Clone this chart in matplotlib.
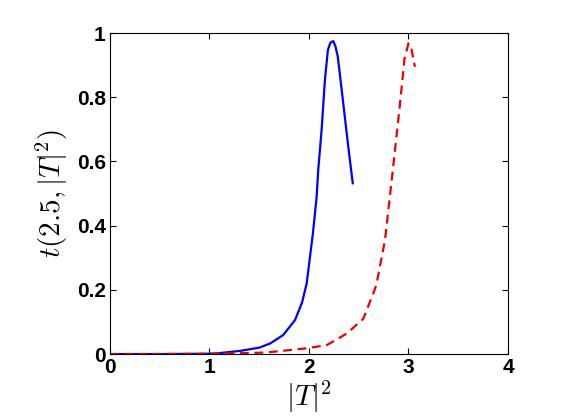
import numpy as np
import matplotlib
matplotlib.use('Agg')
import matplotlib.pyplot as plt

# 曲线数据
x_blue = [0, 0.5, 1.0, 1.07, 1.31, 1.5, 1.61, 1.74, 1.86, 1.93, 1.977, 2.04, 2.077,
          2.093, 2.127, 2.16, 2.19, 2.215, 2.244, 2.265, 2.29, 2.345, 2.395, 2.44]
y_blue = [0.0, 0.0, 0.001, 0.002, 0.01, 0.02, 0.033, 0.059, 0.106, 0.16, 0.22, 0.377, 0.49,
          0.573, 0.698, 0.853, 0.947, 0.97, 0.975, 0.96, 0.926, 0.78, 0.646, 0.532]

x_red = [0, 0.5, 1.0, 1.5, 1.64, 1.977, 2.18, 2.38, 2.546, 2.66, 2.68, 2.764, 2.85,
         2.915, 2.96, 3.0, 3.03, 3.065]
y_red = [0.0, 0.0, 0.001, 0.004, 0.007, 0.018, 0.028, 0.064, 0.11, 0.2, 0.22, 0.355, 0.594,
         0.78, 0.92, 0.968, 0.95, 0.895]

xticks = [0, 1, 2, 3, 4]
yticks = [0, 0.2, 0.4, 0.6, 0.8, 1]
yticklabels = ['0', '0.2', '0.4', '0.6', '0.8', '1']

plt.rcParams['font.family'] = ['Liberation Sans', 'DejaVu Sans']
plt.rcParams['mathtext.fontset'] = 'cm'

fig = plt.figure(figsize=(5.61, 4.2), dpi=100)
ax = fig.add_axes([0.196, 0.157, 0.7095, 0.7643])

ax.plot(x_blue, y_blue, color='#0000ff', lw=1.6)
ax.plot(x_red, y_red, color='#ee0000', lw=1.6, ls=(0, (4, 2.5)))

ax.set_xlim(0, 4)
ax.set_ylim(0, 1)
ax.set_xticks(xticks)
ax.set_xticklabels([str(v) for v in xticks], fontsize=15, fontweight='bold')
ax.set_yticks(yticks)
ax.set_yticklabels(yticklabels, fontsize=15, fontweight='bold')
ax.tick_params(direction='in', top=True, right=True, length=4, width=0.8, pad=3)
for s in ax.spines.values():
    s.set_linewidth(0.8)

ax.set_xlabel(r'$|T|^2$', fontsize=21, labelpad=1)
ax.set_ylabel(r'$t(2.5,|T|^2)$', fontsize=21, labelpad=5)

fig.savefig('out.png', dpi=100)
